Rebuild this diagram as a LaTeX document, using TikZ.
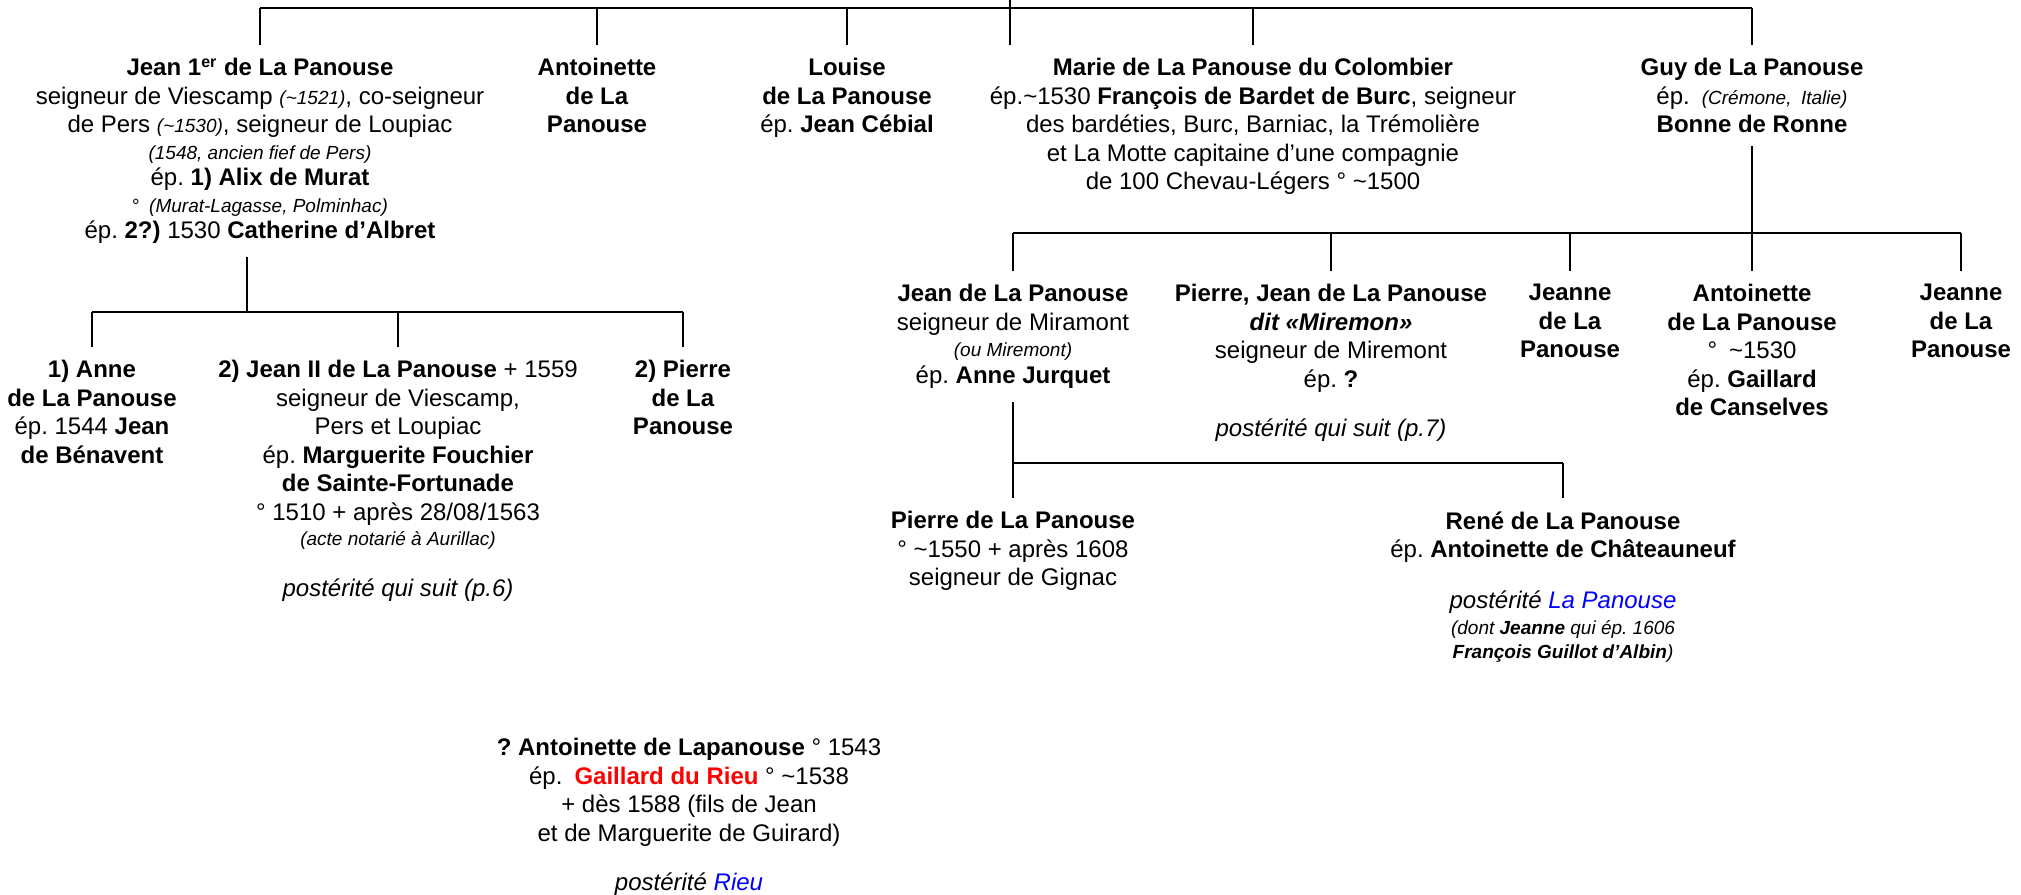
\documentclass[tikz,border=0pt]{standalone}
\usepackage{fontspec}
\setmainfont{Liberation Sans}
\frenchspacing
\newcommand{\petit}[1]{{\fontsize{9.5}{11}\selectfont\itshape #1}}
\begin{document}
\begin{tikzpicture}[x=0.5pt, y=-0.5pt,
        person/.style={align=center, anchor=north, inner xsep=0pt, inner ysep=6.5pt,
            font=\fontsize{12}{14.25}\selectfont},
        link/.style={line width=1.4pt}]
        \useasboundingbox (0, 0) rectangle (2021, 894);

        % First generation
        \node [person] (JeanI) at (260, 45) {\textbf{Jean 1\textsuperscript{er} de La Panouse}\\
            seigneur de Viescamp \petit{(\textasciitilde1521)}, co-seigneur\\
            de Pers \petit{(\textasciitilde1530)}, seigneur de Loupiac\\[-1pt]
            \petit{(1548, ancien fief de Pers)}\\[-1pt]
            ép. \textbf{1) Alix de Murat}\\[-1pt]
            {\fontsize{9.5}{11}\selectfont °\enspace\itshape (Murat-Lagasse, Polminhac)}\\[-1pt]
            ép. \textbf{2?)} 1530 \textbf{Catherine d’Albret}};
        \node [person] (AntoinetteA) at (597, 45) {\textbf{Antoinette}\\ \textbf{de La}\\ \textbf{Panouse}};
        \node [person] (Louise) at (847, 45) {\textbf{Louise}\\ \textbf{de La Panouse}\\ ép. \textbf{Jean Cébial}};
        \node [person] (Marie) at (1253, 45) {\textbf{Marie de La Panouse du Colombier}\\
            ép.\textasciitilde1530 \textbf{François de Bardet de Burc}, seigneur\\
            des bardéties, Burc, Barniac, la Trémolière\\
            et La Motte capitaine d’une compagnie\\
            de 100 Chevau-Légers ° \textasciitilde1500};
        \node [person] (Guy) at (1752, 45) {\textbf{Guy de La Panouse}\\
            ép.\enspace\petit{(Crémone,\enspace Italie)}\\ \textbf{Bonne de Ronne}};

        % Children of Jean 1er
        \node [person] (AnneB) at (92, 347) {\textbf{1) Anne}\\ \textbf{de La Panouse}\\
            ép. 1544 \textbf{Jean}\\ \textbf{de Bénavent}};
        \node [person] (JeanII) at (398, 347) {\textbf{2) Jean II de La Panouse} + 1559\\
            seigneur de Viescamp,\\ Pers et Loupiac\\
            ép. \textbf{Marguerite Fouchier}\\ \textbf{de Sainte-Fortunade}\\
            ° 1510 + après 28/08/1563\\[-1.5pt]
            \petit{(acte notarié à Aurillac)}\\[11pt]
            \textit{postérité qui suit (p.6)}};
        \node [person] (PierreB) at (683, 347) {\textbf{2) Pierre}\\ \textbf{de La}\\ \textbf{Panouse}};

        % Children of Guy
        \node [person] (JeanM) at (1013, 271) {\textbf{Jean de La Panouse}\\
            seigneur de Miramont\\[-1pt]
            \petit{(ou Miremont)}\\[-1pt]
            ép. \textbf{Anne Jurquet}};
        \node [person] (PierreJ) at (1331, 271) {\textbf{Pierre, Jean de La Panouse}\\
            \textbf{\textit{dit «Miremon»}}\\
            seigneur de Miremont\\
            ép. \textbf{?}\\[10.5pt]
            \textit{postérité qui suit (p.7)}};
        \node [person] (JeanneA) at (1570, 271) {\textbf{Jeanne}\\ \textbf{de La}\\ \textbf{Panouse}};
        \node [person] (AntoinetteC) at (1752, 271) {\textbf{Antoinette}\\ \textbf{de La Panouse}\\
            °\enspace\textasciitilde1530\\ ép. \textbf{Gaillard}\\ \textbf{de Canselves}};
        \node [person] (JeanneB) at (1961, 271) {\textbf{Jeanne}\\ \textbf{de La}\\ \textbf{Panouse}};

        % Children of Jean de La Panouse
        \node [person] (PierreG) at (1013, 498) {\textbf{Pierre de La Panouse}\\
            ° \textasciitilde1550 + après 1608\\ seigneur de Gignac};
        \node [person] (Rene) at (1563, 498) {\textbf{René de La Panouse}\\
            ép. \textbf{Antoinette de Châteauneuf}\\[11pt]
            \textit{postérité \textcolor{blue}{La Panouse}}\\[-1pt]
            \petit{(dont \textbf{Jeanne} qui ép. 1606}\\[-2.5pt]
            \petit{\textbf{François Guillot d’Albin})}};

        % Loose entry
        \node [person] (AntoinetteL) at (689, 725) {\textbf{? Antoinette de Lapanouse} ° 1543\\
            ép.\enspace\textcolor{red}{\textbf{Gaillard du Rieu}} ° \textasciitilde1538\\
            + dès 1588 (fils de Jean\\
            et de Marguerite de Guirard)\\[10.5pt]
            \textit{postérité \textcolor{blue}{Rieu}}};

        % Rows
        \coordinate (Parent) at (1010, 0);
        \coordinate (RowA) at (1010, 8);
        \coordinate (RowB) at (247, 312);
        \coordinate (RowC) at (1752, 233);
        \coordinate (RowD) at (1013, 463);

        % Lines
        \draw [link] (Parent) -- (Parent |- Marie.north);
        \draw [link] (JeanI.north |- RowA) -- (Guy.north |- RowA);
        \foreach \child in {JeanI, AntoinetteA, Louise, Marie, Guy}
            \draw [link] (\child.north |- RowA) -- (\child.north);

        \draw [link] (JeanI.south -| RowB) -- (RowB);
        \draw [link] (AnneB.north |- RowB) -- (PierreB.north |- RowB);
        \foreach \child in {AnneB, JeanII, PierreB}
            \draw [link] (\child.north |- RowB) -- (\child.north);

        \draw [link] (Guy.south) -- (AntoinetteC.north);
        \draw [link] (JeanM.north |- RowC) -- (JeanneB.north |- RowC);
        \foreach \child in {JeanM, PierreJ, JeanneA, JeanneB}
            \draw [link] (\child.north |- RowC) -- (\child.north);

        \draw [link] (JeanM.south) -- (PierreG.north);
        \draw [link] (PierreG.north |- RowD) -- (Rene.north |- RowD);
        \draw [link] (Rene.north |- RowD) -- (Rene.north);
    \end{tikzpicture}
\end{document}
